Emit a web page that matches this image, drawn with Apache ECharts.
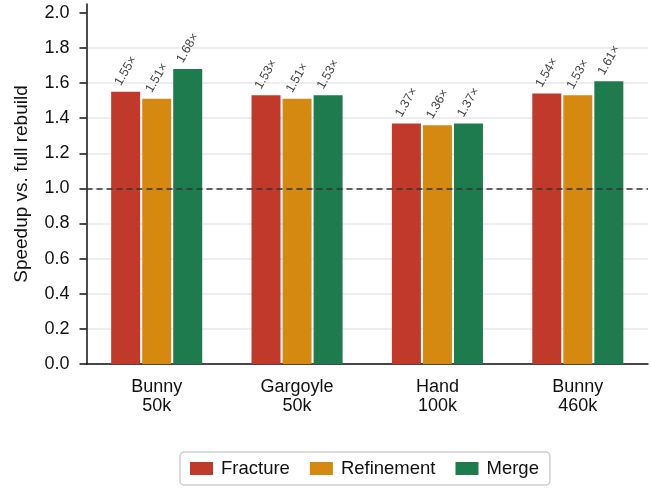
<!DOCTYPE html>
<html>
<head>
<meta charset="utf-8">
<script src="https://cdn.jsdelivr.net/npm/echarts@6/dist/echarts.min.js"></script>
<style>
  html, body { margin: 0; padding: 0; background: #fff; }
  #chart { width: 651px; height: 488px; }
</style>
</head>
<body>
<div id="chart"></div>
<script>
// Meshes benchmarked
const categories = ['Bunny\n50k', 'Gargoyle\n50k', 'Hand\n100k', 'Bunny\n460k'];

// Speedup over a full rebuild, per stage
const fracture   = [1.55, 1.53, 1.37, 1.54];
const refinement = [1.51, 1.51, 1.36, 1.53];
const merge      = [1.68, 1.53, 1.37, 1.61];

const yTicks = [0, 0.2, 0.4, 0.6, 0.8, 1.0, 1.2, 1.4, 1.6, 1.8, 2.0];

const FONT = 'Liberation Sans, Arial, Helvetica, sans-serif';

const chart = echarts.init(document.getElementById('chart'), null, { renderer: 'canvas' });

function barSeries(name, data, color, extra) {
  return Object.assign({
    name: name,
    type: 'bar',
    data: data,
    barWidth: 29,
    barGap: '7%',
    itemStyle: { color: color },
    label: {
      show: true,
      position: 'top',
      distance: 21,
      rotate: 60,
      align: 'center',
      verticalAlign: 'middle',
      fontFamily: FONT,
      fontSize: 12.5,
      color: '#444',
      formatter: p => p.value.toFixed(2) + '×'
    }
  }, extra || {});
}

chart.setOption({
  animation: false,
  textStyle: { fontFamily: FONT },
  grid: { left: 86.5, right: 3, top: 4, bottom: 124 },
  legend: {
    left: 180,
    bottom: 3,
    itemWidth: 23,
    itemHeight: 13,
    itemGap: 20,
    padding: [7, 11, 7, 10],
    borderColor: '#cfcfcf',
    borderWidth: 1.5,
    borderRadius: 4,
    icon: 'rect',
    textStyle: { fontFamily: FONT, fontSize: 18.5, color: '#111', padding: [0, 0, 0, 3] },
    data: ['Fracture', 'Refinement', 'Merge']
  },
  xAxis: {
    type: 'category',
    data: categories,
    axisLine: { lineStyle: { color: '#111', width: 1.5 } },
    axisTick: { alignWithLabel: true, length: 7, lineStyle: { color: '#111', width: 1.5 } },
    axisLabel: { fontFamily: FONT, fontSize: 18, color: '#111', margin: 13, lineHeight: 19.5 },
    splitLine: { show: false }
  },
  yAxis: {
    type: 'value',
    min: 0,
    max: 2.05,
    interval: 0.2,
    name: 'Speedup vs. full rebuild',
    nameLocation: 'middle',
    nameGap: 55,
    nameTextStyle: { fontFamily: FONT, fontSize: 19, color: '#111' },
    axisLine: { show: true, lineStyle: { color: '#111', width: 1.5 } },
    axisTick: { show: true, length: 7, customValues: yTicks, lineStyle: { color: '#111', width: 1.5 } },
    axisLabel: {
      fontFamily: FONT, fontSize: 18, color: '#111', margin: 17,
      customValues: yTicks,
      formatter: v => v.toFixed(1)
    },
    splitLine: { show: true, showMaxLine: false, lineStyle: { color: '#e8e8e8', width: 1.5 } }
  },
  series: [
    barSeries('Fracture', fracture, '#c0392b', {
      markLine: {
        silent: true,
        symbol: 'none',
        label: { show: false },
        lineStyle: { color: '#333', type: [6, 4], width: 1.5 },
        data: [{ yAxis: 1.0 }]
      }
    }),
    barSeries('Refinement', refinement, '#d68910'),
    barSeries('Merge', merge, '#1e7b4e')
  ]
});
</script>
</body>
</html>
